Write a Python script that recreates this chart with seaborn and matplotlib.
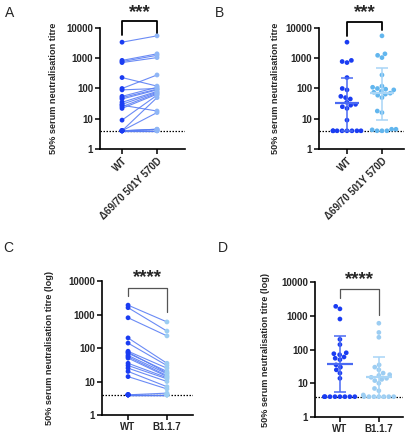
#!/usr/bin/env python3
"""Neutralisation titres WT vs variant: paired lines (A, C) and swarm with median (B, D)."""

import matplotlib

matplotlib.use("Agg")

import matplotlib.pyplot as plt
import matplotlib.ticker as mticker
import pandas as pd
import seaborn as sns

# panels A/B: WT vs delta69/70 501Y 570D (same donors)
LABELS_AB = ["WT", "Δ69/70 501Y 570D"]
WT_AB = [3400, 850, 780, 720, 230, 100, 90, 55, 50, 45, 35, 30,
         28, 25, 22, 9, 4, 4, 4, 4, 4, 4, 4, 4]
MUT_AB = [5500, 1400, 1250, 1050, 120, 280, 100, 110, 95, 90, 80, 75,
          18, 70, 65, 60, 50, 16, 4.5, 4.5, 4.3, 4, 4, 4]
MID_B = [33, 70]
LOW_B = [4, 9]
HIGH_B = [220, 480]

# panels C/D: WT vs B1.1.7
LABELS_CD = ["WT", "B1.1.7"]
WT_CD = [1900, 1600, 800, 200, 140, 80, 75, 70, 60, 55, 50, 35,
         30, 25, 20, 14, 4, 4, 4, 4, 4, 4, 4, 4]
B117_CD = [600, 320, 230, 35, 30, 25, 18, 20, 17, 15, 14, 13,
           12, 10, 7, 6, 4.5, 4, 4, 4, 4, 4, 4, 4]
MID_D = [36, 15]
LOW_D = [5.5, 4]
HIGH_D = [250, 62]

YTICKS = [1, 10, 100, 1000, 10000]
LOD = 4

DARK = "#1a3cf2"
LINE = "#5a7ef4"
LIGHT_AB = "#8fb6f6"
LIGHT_B = "#62b6ee"
LIGHT_CD = "#9ccdf2"
BAR_DARK = "#4a6af2"
BAR_LIGHT = "#a8d5f6"

FONT = ["Liberation Sans", "DejaVu Sans"]


def long_frame(wt, mut, labels):
    n = len(wt)
    return pd.DataFrame({
        "donor": list(range(n)) * 2,
        "group": [labels[0]] * n + [labels[1]] * n,
        "pos": [0] * n + [1] * n,
        "titre": list(wt) + list(mut),
    })


def style_axis(ax, xlim, labels, ylabel, rotate, label_x):
    ax.set_yscale("log")
    ax.set_ylim(1, 10000)
    ax.set_yticks(YTICKS)
    ax.yaxis.set_major_formatter(mticker.FuncFormatter(lambda v, _: f"{int(v)}"))
    ax.yaxis.set_minor_locator(mticker.NullLocator())
    ax.set_xlim(*xlim)
    ax.set_xticks([0, 1])
    if rotate:
        ax.set_xticklabels(labels, rotation=45, ha="right", rotation_mode="anchor")
    else:
        ax.set_xticklabels(labels)
    for t in ax.get_xticklabels() + ax.get_yticklabels():
        t.set_fontweight("bold")
        t.set_fontsize(7)
    ax.set_xlabel("")
    ax.set_ylabel(ylabel, fontsize=6.6, fontweight="bold")
    ax.yaxis.set_label_coords(label_x, 0.5)
    ax.tick_params(width=1.1, length=3.5, pad=1.5, color="black")
    sns.despine(ax=ax)
    for side in ("left", "bottom"):
        ax.spines[side].set_linewidth(1.2)
        ax.spines[side].set_color("black")
    ax.axhline(LOD, color="black", lw=0.9, ls=(0, (1.2, 1.2)), zorder=1)


def bracket(ax, top, left, right, stars, star_y, color, lw):
    ax.plot([0, 0, 1, 1], [left, top, top, right], color=color, lw=lw, clip_on=False)
    ax.text(0.5, star_y, stars, ha="center", va="center", fontsize=13.5,
            fontweight="bold", clip_on=False)


def paired(ax, df, light):
    sns.lineplot(data=df, x="pos", y="titre", units="donor", estimator=None,
                 color=LINE, lw=0.8, alpha=0.9, ax=ax, legend=False, zorder=2)
    sns.scatterplot(data=df, x="pos", y="titre", hue="group",
                    palette=[DARK, light], s=12, linewidth=0, ax=ax,
                    legend=False, zorder=3)


def swarm(ax, df, labels, light, mid, low, high, bar_light):
    ax.set_yscale("log")
    sns.swarmplot(data=df, x="group", y="titre", hue="group", order=labels,
                  palette=[DARK, light], size=3.4, ax=ax, legend=False, zorder=3)
    for i, col in enumerate([BAR_DARK, bar_light]):
        ax.errorbar([i], [mid[i]], yerr=[[mid[i] - low[i]], [high[i] - mid[i]]],
                    fmt="none", ecolor=col, elinewidth=1.1, capsize=4.3,
                    capthick=1.1, zorder=4)
        ax.hlines(mid[i], i - 0.33, i + 0.33, color=col, lw=1.6, zorder=4)


sns.set_theme(style="ticks")
plt.rcParams["font.family"] = FONT

fig = plt.figure(figsize=(4.06, 4.40), dpi=100)
W, H = 406, 440


def add_axes(left, right, top, bottom):
    return fig.add_axes([left / W, 1 - bottom / H, (right - left) / W, (bottom - top) / H])


ax_a = add_axes(100, 185, 28, 149)
ax_b = add_axes(319, 404, 28, 149)
ax_c = add_axes(102, 193, 281, 415)
ax_d = add_axes(315, 403, 282, 417)

df_ab = long_frame(WT_AB, MUT_AB, LABELS_AB)
df_cd = long_frame(WT_CD, B117_CD, LABELS_CD)

ylab = "50% serum neutralisation titre"
ylab_log = "50% serum neutralisation titre (log)"

# A
paired(ax_a, df_ab, LIGHT_AB)
style_axis(ax_a, (-0.63, 1.8), LABELS_AB, ylab, True, -0.49)
bracket(ax_a, 17000, 5900, 5900, "***", 33000, "black", 1.3)

# B
swarm(ax_b, df_ab, LABELS_AB, LIGHT_B, MID_B, LOW_B, HIGH_B, BAR_LIGHT)
style_axis(ax_b, (-0.8, 1.63), LABELS_AB, ylab, True, -0.46)
bracket(ax_b, 16000, 5400, 8600, "***", 33000, "black", 1.3)

# C
paired(ax_c, df_cd, LIGHT_CD)
style_axis(ax_c, (-0.67, 1.67), LABELS_CD, ylab_log, False, -0.53)
bracket(ax_c, 6200, 3600, 1200, "****", 12500, "#555555", 0.9)

# D
swarm(ax_d, df_cd, LABELS_CD, LIGHT_CD, MID_D, LOW_D, HIGH_D, BAR_LIGHT)
style_axis(ax_d, (-0.64, 1.62), LABELS_CD, ylab_log, False, -0.51)
bracket(ax_d, 6100, 3300, 1050, "****", 11500, "#555555", 0.9)

for letter, x, y in [("A", 10, 13), ("B", 220, 13), ("C", 8, 248), ("D", 223, 248)]:
    fig.text(x / W, 1 - y / H, letter, ha="center", va="center", fontsize=10)

fig.savefig("out.png", dpi=100)
